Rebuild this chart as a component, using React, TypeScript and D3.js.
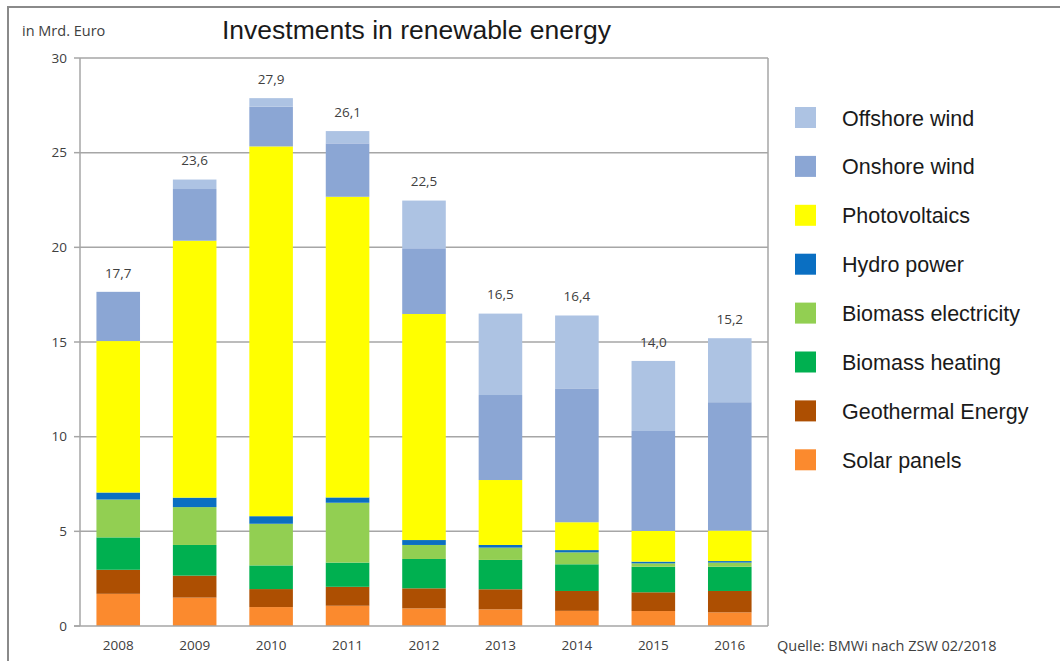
import React from "react";
import * as d3 from "d3";

const years = ["2008", "2009", "2010", "2011", "2012", "2013", "2014", "2015", "2016"];
// stacking order bottom -> top
const seriesNames = [
  "Solar panels",
  "Geothermal Energy",
  "Biomass heating",
  "Biomass electricity",
  "Hydro power",
  "Photovoltaics",
  "Onshore wind",
  "Offshore wind",
];
const solarPanels = [1.7, 1.5, 1.0, 1.07, 0.93, 0.88, 0.8, 0.79, 0.72];
const geothermal = [1.27, 1.16, 0.95, 1.0, 1.06, 1.06, 1.05, 0.99, 1.13];
const biomassHeating = [1.71, 1.62, 1.25, 1.28, 1.55, 1.55, 1.41, 1.35, 1.28];
const biomassElectricity = [2.0, 2.0, 2.2, 3.16, 0.74, 0.65, 0.63, 0.18, 0.22];
const hydroPower = [0.37, 0.5, 0.4, 0.28, 0.26, 0.14, 0.12, 0.09, 0.08];
const photovoltaics = [8.0, 13.57, 19.53, 15.88, 11.94, 3.43, 1.47, 1.62, 1.61];
const onshoreWind = [2.6, 2.73, 2.1, 2.82, 3.47, 4.49, 7.07, 5.28, 6.78];
const offshoreWind = [0.0, 0.5, 0.45, 0.65, 2.52, 4.3, 3.85, 3.7, 3.38];
const totalLabels = ["17,7", "23,6", "27,9", "26,1", "22,5", "16,5", "16,4", "14,0", "15,2"];
const yTicks = [0, 5, 10, 15, 20, 25, 30];
const legendOrder = [
  "Offshore wind",
  "Onshore wind",
  "Photovoltaics",
  "Hydro power",
  "Biomass electricity",
  "Biomass heating",
  "Geothermal Energy",
  "Solar panels",
];
const colors: Record<string, string> = {
  "Offshore wind": "#adc3e3",
  "Onshore wind": "#8ba6d4",
  "Photovoltaics": "#ffff00",
  "Hydro power": "#0a6fc2",
  "Biomass electricity": "#92cf52",
  "Biomass heating": "#00b050",
  "Geothermal Energy": "#ad4f02",
  "Solar panels": "#fb8a2e",
};

const seriesValues: number[][] = [
  solarPanels,
  geothermal,
  biomassHeating,
  biomassElectricity,
  hydroPower,
  photovoltaics,
  onshoreWind,
  offshoreWind,
];

export default function App() {
  const W = 1060;
  const H = 661;
  const left = 80;
  const right = 768;
  const top = 58;
  const bottom = 626;

  const table = years.map((y, i) => {
    const row: Record<string, any> = { year: y };
    seriesNames.forEach((n, k) => (row[n] = seriesValues[k][i]));
    return row;
  });
  const stack = d3.stack<Record<string, any>>().keys(seriesNames)(table);
  const totals = years.map((_, i) => d3.sum(seriesValues, (s) => s[i]));

  const x = d3.scaleBand().domain(years).range([left, right]).paddingInner(0.43).paddingOuter(0.215);
  const y = d3.scaleLinear().domain([0, 30]).range([bottom, top]);

  const labelFont = "'Open Sans', 'DejaVu Sans', sans-serif";
  const mainFont = "'Liberation Sans', Arial, sans-serif";

  return (
    <svg
      width={W}
      height={H}
      style={{ position: "absolute", left: 0, top: 0, background: "#fff" }}
      xmlns="http://www.w3.org/2000/svg"
    >
      {/* outer frame */}
      <rect x={8} y={7} width={W + 10} height={H + 10} fill="none" stroke="#8a8a8a" strokeWidth={2} />

      {/* gridlines */}
      {yTicks.map((t) => (
        <g key={t}>
          {t > 0 && (
            <line x1={left} x2={right} y1={y(t)} y2={y(t)} stroke="#a6a6a6" strokeWidth={1.5} />
          )}
          <line x1={left - 6} x2={left} y1={y(t)} y2={y(t)} stroke="#a6a6a6" strokeWidth={1.5} />
          <text
            x={67}
            y={y(t)}
            dy="0.35em"
            textAnchor="end"
            fontFamily={labelFont}
            fontSize={13.5}
            fill="#404040"
          >
            {t}
          </text>
        </g>
      ))}

      {/* bars */}
      {stack.map((layer) => (
        <g key={layer.key} fill={colors[layer.key]}>
          {layer.map((d, i) => (
            <rect
              key={i}
              x={x(years[i])}
              width={x.bandwidth()}
              y={y(d[1])}
              height={Math.max(0, y(d[0]) - y(d[1]))}
            />
          ))}
        </g>
      ))}

      {/* axes */}
      <line x1={left} x2={left} y1={top} y2={bottom} stroke="#a6a6a6" strokeWidth={1.5} />
      <line x1={left - 6} x2={right} y1={bottom} y2={bottom} stroke="#a6a6a6" strokeWidth={1.5} />
      <line x1={right} x2={right} y1={top} y2={bottom} stroke="#a6a6a6" strokeWidth={1.5} />

      {/* x tick labels */}
      {years.map((yr) => (
        <text
          key={yr}
          x={(x(yr) as number) + x.bandwidth() / 2}
          y={650}
          textAnchor="middle"
          fontFamily={labelFont}
          fontSize={13.5}
          fill="#404040"
        >
          {yr}
        </text>
      ))}

      {/* total labels */}
      {years.map((yr, i) => (
        <text
          key={yr}
          x={(x(yr) as number) + x.bandwidth() / 2}
          y={y(totals[i]) - 19}
          dy="0.35em"
          textAnchor="middle"
          fontFamily={labelFont}
          fontSize={13.5}
          fill="#404040"
        >
          {totalLabels[i]}
        </text>
      ))}

      {/* axis unit */}
      <text x={22} y={36} fontFamily={labelFont} fontSize={14.5} fill="#404040">
        in Mrd. Euro
      </text>

      {/* title */}
      <text x={222} y={39} fontFamily={mainFont} fontSize={26.5} fill="#1a1a1a">
        Investments in renewable energy
      </text>

      {/* legend */}
      {legendOrder.map((name, i) => {
        const cy = 118 + i * 48.9;
        return (
          <g key={name}>
            <rect x={795} y={cy - 11} width={21} height={21} fill={colors[name]} />
            <text x={842} y={cy} dy="0.35em" fontFamily={mainFont} fontSize={21.5} fill="#1a1a1a">
              {name}
            </text>
          </g>
        );
      })}

      {/* source */}
      <text x={777} y={651} fontFamily={labelFont} fontSize={14.5} fill="#404040">
        Quelle: BMWi nach ZSW 02/2018
      </text>
    </svg>
  );
}
